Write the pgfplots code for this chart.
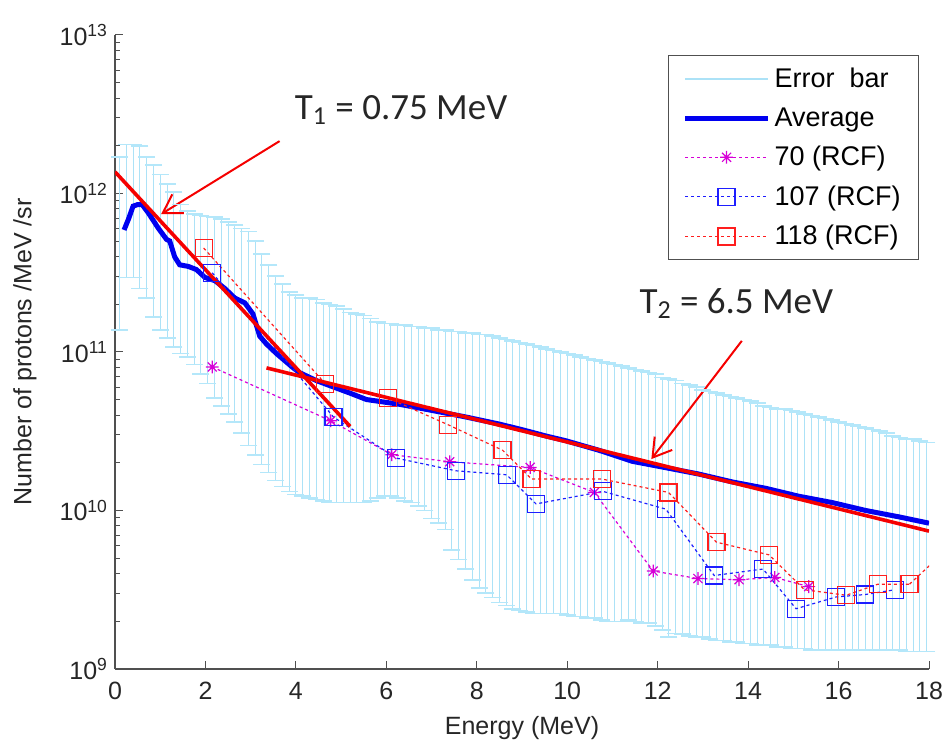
\documentclass[border=0pt]{standalone}
\usepackage{fontspec}
\setmainfont{Liberation Sans}
\newfontfamily\calib{Carlito}
\usepackage{pgfplots}
\usepackage{pgfplotstable}
\pgfplotsset{compat=1.18}
\usetikzlibrary{arrows.meta}

\definecolor{ebc}{RGB}{172,226,247}
\definecolor{ebcap}{RGB}{180,231,250}
\definecolor{avgblue}{RGB}{0,0,240}
\definecolor{mag}{RGB}{215,0,215}
\definecolor{sqblue}{RGB}{30,30,255}
\definecolor{sqred}{RGB}{255,30,30}
\definecolor{fitred}{RGB}{245,0,0}
\definecolor{axgray}{RGB}{80,80,80}

\pgfdeclareplotmark{mstar}{%
 \pgfpathmoveto{\pgfqpoint{0pt}{\pgfplotmarksize}}\pgfpathlineto{\pgfqpoint{0pt}{-\pgfplotmarksize}}%
 \pgfpathmoveto{\pgfqpoint{\pgfplotmarksize}{0pt}}\pgfpathlineto{\pgfqpoint{-\pgfplotmarksize}{0pt}}%
 \pgfpathmoveto{\pgfqpoint{.707\pgfplotmarksize}{.707\pgfplotmarksize}}\pgfpathlineto{\pgfqpoint{-.707\pgfplotmarksize}{-.707\pgfplotmarksize}}%
 \pgfpathmoveto{\pgfqpoint{-.707\pgfplotmarksize}{.707\pgfplotmarksize}}\pgfpathlineto{\pgfqpoint{.707\pgfplotmarksize}{-.707\pgfplotmarksize}}%
 \pgfusepathqstroke}

\pgfplotsset{
  midmark legend/.style={legend image code/.code={\draw[mark repeat=2, mark phase=2, ##1] plot coordinates {(0cm,0cm) (0.73cm,0cm) (1.46cm,0cm)};}},
  eb legend/.style={legend image code/.code={\draw[ebc, line width=0.8pt] (0cm,0cm) -- (1.46cm,0cm);}},
  avg legend/.style={legend image code/.code={\draw[avgblue, line width=2.5pt] (0cm,0cm) -- (1.46cm,0cm);}},
}

\pgfplotstableread{
E hi lo
0.10 1.698e12 1.380e11
0.25 2.042e12 2.951e11
0.40 2.042e12 2.951e11
0.55 1.995e12 2.512e11
0.70 1.698e12 2.188e11
0.85 1.514e12 1.660e11
1.00 1.318e12 1.380e11
1.15 1.148e12 1.230e11
1.30 1.023e12 1.072e11
1.45 8.511e11 9.772e10
1.60 7.762e11 9.333e10
1.75 7.413e11 8.318e10
1.90 7.244e11 7.244e10
2.05 7.161e11 6.310e10
2.20 7.079e11 5.129e10
2.35 6.918e11 4.571e10
2.50 6.607e11 4.074e10
2.65 6.310e11 3.631e10
2.80 6.026e11 3.090e10
2.95 5.754e11 2.570e10
3.10 5.012e11 2.239e10
3.25 4.169e11 1.950e10
3.40 3.548e11 1.738e10
3.55 3.020e11 1.549e10
3.70 2.692e11 1.413e10
3.85 2.399e11 1.318e10
4.00 2.291e11 1.259e10
4.15 2.188e11 1.230e10
4.30 2.188e11 1.202e10
4.45 2.138e11 1.175e10
4.60 2.042e11 1.148e10
4.75 1.995e11 1.122e10
4.90 1.950e11 1.122e10
5.05 1.862e11 1.122e10
5.20 1.778e11 1.122e10
5.35 1.738e11 1.122e10
5.50 1.698e11 1.122e10
5.65 1.622e11 1.148e10
5.80 1.549e11 1.202e10
5.95 1.514e11 1.230e10
6.10 1.514e11 1.230e10
6.25 1.479e11 1.202e10
6.40 1.479e11 1.148e10
6.55 1.445e11 1.122e10
6.70 1.445e11 1.072e10
6.85 1.413e11 1.000e10
7.00 1.413e11 8.913e9
7.15 1.380e11 8.318e9
7.30 1.380e11 7.586e9
7.45 1.349e11 5.623e9
7.60 1.349e11 4.898e9
7.75 1.318e11 4.266e9
7.90 1.318e11 3.631e9
8.05 1.288e11 3.236e9
8.20 1.288e11 3.020e9
8.35 1.259e11 2.818e9
8.50 1.230e11 2.630e9
8.65 1.202e11 2.512e9
8.80 1.175e11 2.399e9
8.95 1.148e11 2.344e9
9.10 1.122e11 2.291e9
9.25 1.096e11 2.239e9
9.40 1.072e11 2.239e9
9.55 1.047e11 2.239e9
9.70 1.023e11 2.239e9
9.85 1.000e11 2.239e9
10.00 9.772e10 2.188e9
10.15 9.550e10 2.138e9
10.30 9.333e10 2.138e9
10.45 9.120e10 2.089e9
10.60 8.913e10 2.089e9
10.75 8.710e10 2.042e9
10.90 8.511e10 1.995e9
11.05 8.318e10 1.995e9
11.20 8.128e10 1.995e9
11.35 7.943e10 2.042e9
11.50 7.762e10 1.995e9
11.65 7.586e10 1.950e9
11.80 7.413e10 1.950e9
11.95 7.244e10 1.862e9
12.10 6.918e10 1.758e9
12.25 6.761e10 1.585e9
12.40 6.607e10 1.679e9
12.55 6.310e10 1.660e9
12.70 6.166e10 1.622e9
12.85 6.026e10 1.585e9
13.00 5.754e10 1.585e9
13.15 5.623e10 1.549e9
13.30 5.495e10 1.514e9
13.45 5.370e10 1.514e9
13.60 5.248e10 1.479e9
13.75 5.129e10 1.479e9
13.90 5.012e10 1.445e9
14.05 4.898e10 1.445e9
14.20 4.786e10 1.413e9
14.35 4.571e10 1.413e9
14.50 4.467e10 1.413e9
14.65 4.365e10 1.380e9
14.80 4.365e10 1.380e9
14.95 4.266e10 1.349e9
15.10 4.169e10 1.349e9
15.25 4.074e10 1.349e9
15.40 3.981e10 1.318e9
15.55 3.890e10 1.318e9
15.70 3.802e10 1.318e9
15.85 3.715e10 1.318e9
16.00 3.631e10 1.318e9
16.15 3.548e10 1.318e9
16.30 3.467e10 1.318e9
16.45 3.388e10 1.318e9
16.60 3.311e10 1.318e9
16.75 3.236e10 1.318e9
16.90 3.162e10 1.318e9
17.05 3.090e10 1.318e9
17.20 2.951e10 1.318e9
17.35 2.884e10 1.318e9
17.50 2.818e10 1.288e9
17.65 2.818e10 1.288e9
17.80 2.754e10 1.288e9
17.95 2.692e10 1.288e9
}\ebdata

\begin{document}
\begin{tikzpicture}
\begin{axis}[
  scale only axis, width=407pt, height=317pt,
  ymode=log, xmin=0, xmax=18, ymin=1e9, ymax=1e13,
  axis lines=left, axis line style={-, axgray, line width=0.6pt},
  tick align=inside, major tick length=4pt, minor tick length=2.5pt,
  tick style={axgray, line width=0.5pt},
  xtick={0,2,...,18},
  ytick={1e9,1e10,1e11,1e12,1e13},
  yticklabels={10\textsuperscript{9},10\textsuperscript{10},10\textsuperscript{11},10\textsuperscript{12},10\textsuperscript{13}},
  /pgf/number format/assume math mode=true,
  ticklabel style={font=\fontsize{12.5}{14}\selectfont, text=black!85},
  xticklabel style={yshift=-3pt},
  xlabel={Energy (MeV)}, ylabel={Number of protons /MeV /sr},
  label style={font=\fontsize{12.5}{14}\selectfont, text=black!85},
  xlabel style={at={(rel axis cs:0.5,-0.093)}, anchor=center},
  ylabel style={at={(rel axis cs:-0.1106,0.5)}, anchor=center},
  legend cell align=left,
  legend style={at={(rel axis cs:0.988,0.968)}, anchor=north east,
    draw=axgray, line width=0.6pt, font=\fontsize{13.5}{15}\selectfont,
    inner xsep=7pt, inner ysep=4pt, row sep=4.5pt},
]
% error bars: vertical lines and upper caps
\addplot[ebcap, only marks, mark=-, mark size=4.25pt, mark options={line width=0.8pt}, eb legend,
  error bars/.cd, y dir=minus, y explicit, error mark=none,
  error bar style={ebc, line width=0.5pt}]
  table[x=E, y=hi, y error minus expr=\thisrow{hi}-\thisrow{lo}] {\ebdata};
\addlegendentry{Error\ \ bar}
% lower caps
\addplot[ebcap, only marks, mark=-, mark size=4.25pt, mark options={line width=0.8pt}, forget plot]
  table[x=E, y=lo] {\ebdata};
% average
\addplot[avgblue, line width=2.5pt, no marks, avg legend]
  coordinates {
  (0.20,5.888e11) (0.30,6.918e11) (0.40,8.318e11) (0.50,8.511e11) (0.60,8.511e11)
  (0.74,7.516e11) (0.96,6.026e11) (1.14,5.129e11) (1.21,5.012e11) (1.32,3.981e11)
  (1.43,3.548e11) (1.62,3.467e11) (1.80,3.311e11) (1.99,2.951e11) (2.21,2.818e11)
  (2.43,2.512e11) (2.65,2.188e11) (2.87,2.042e11) (3.05,1.738e11) (3.20,1.259e11)
  (3.35,1.122e11) (3.57,9.772e10) (3.94,7.943e10) (4.08,7.413e10) (4.45,6.607e10)
  (4.82,6.026e10) (5.20,5.495e10) (5.56,5.012e10) (6.29,4.677e10) (7.03,4.266e10)
  (7.76,3.890e10) (8.50,3.508e10) (9.00,3.236e10) (9.53,2.951e10) (9.97,2.754e10)
  (10.70,2.399e10) (11.44,2.042e10) (12.18,1.862e10) (12.91,1.698e10) (13.65,1.514e10)
  (14.39,1.380e10) (15.12,1.230e10) (15.86,1.122e10) (16.60,1.000e10) (17.33,9.120e9)
  (18.00,8.318e9)};
\addlegendentry{Average}
% 70 (RCF)
\addplot[mag, line width=0.6pt, dash pattern=on 1.5pt off 1.5pt, mark=mstar, mark size=3.2pt,
  mark options={solid, line width=0.6pt}, midmark legend]
  coordinates {
  (2.15,8.05e10) (4.77,3.68e10) (6.12,2.25e10) (7.40,2.03e10) (9.18,1.87e10)
  (10.60,1.30e10) (11.90,4.15e9) (12.89,3.72e9) (13.80,3.66e9) (14.59,3.78e9)
  (15.34,3.31e9)};
\addlegendentry{70 (RCF)}
% 107 (RCF)
\addplot[sqblue, line width=0.6pt, dash pattern=on 1.5pt off 1.5pt, mark=square, mark size=4.25pt,
  mark options={solid, line width=0.6pt}, midmark legend]
  coordinates {
  (2.15,3.16e11) (4.83,3.89e10) (6.22,2.14e10) (7.54,1.78e10) (8.66,1.68e10)
  (9.31,1.10e10) (10.79,1.32e10) (12.18,1.02e10) (13.25,3.89e9) (14.33,4.27e9)
  (15.06,2.40e9) (15.95,2.85e9) (16.59,2.95e9) (17.24,3.16e9)};
\addlegendentry{107 (RCF)}
% 118 (RCF)
\addplot[sqred, line width=0.6pt, dash pattern=on 1.5pt off 1.5pt, mark=square, mark size=4.25pt,
  mark options={solid, line width=0.6pt}, midmark legend]
  coordinates {
  (1.96,4.53e11) (4.65,6.31e10) (6.03,5.13e10) (7.37,3.47e10) (8.57,2.40e10)
  (9.21,1.58e10) (10.76,1.58e10) (12.24,1.30e10) (13.30,6.31e9) (14.46,5.25e9)
  (15.25,3.16e9) (16.17,2.92e9) (16.87,3.43e9) (17.57,3.43e9)};
\addlegendentry{118 (RCF)}
\addplot[sqred, line width=0.6pt, dash pattern=on 1.5pt off 1.5pt, no marks, forget plot]
  coordinates {(17.57,3.43e9) (18.30,5.37e9)};
% fit lines
\addplot[fitred, line width=1.8pt, no marks, forget plot] coordinates {(0,1.37e12) (5.2,3.39e10)};
\addplot[fitred, line width=1.8pt, no marks, forget plot] coordinates {(3.35,7.94e10) (18,7.41e9)};
% annotations
\draw[fitred, line width=1pt, -{Straight Barb[length=9pt,width=11pt]}]
  (axis cs:3.64,2.14e12) -- (axis cs:1.02,7.41e11);
\draw[fitred, line width=1pt, -{Straight Barb[length=9pt,width=11pt]}]
  (axis cs:13.86,1.175e11) -- (axis cs:11.86,2.11e10);
\node[anchor=base west, inner sep=0pt, font=\calib\fontsize{18.5}{22}\selectfont, text=black!85]
  at (axis cs:3.97,2.92e12) {T\textsubscript{1} = 0.75 MeV};
\node[anchor=base west, inner sep=0pt, font=\calib\fontsize{18.5}{22}\selectfont, text=black!85]
  at (axis cs:11.59,1.76e11) {T\textsubscript{2} = 6.5 MeV};
\coordinate (bbsw) at (rel axis cs:-0.1413,-0.1199);
\coordinate (bbne) at (rel axis cs:1.0221,1.0552);
\end{axis}
\pgfresetboundingbox
\path (bbsw) rectangle (bbne);
\end{tikzpicture}
\end{document}
